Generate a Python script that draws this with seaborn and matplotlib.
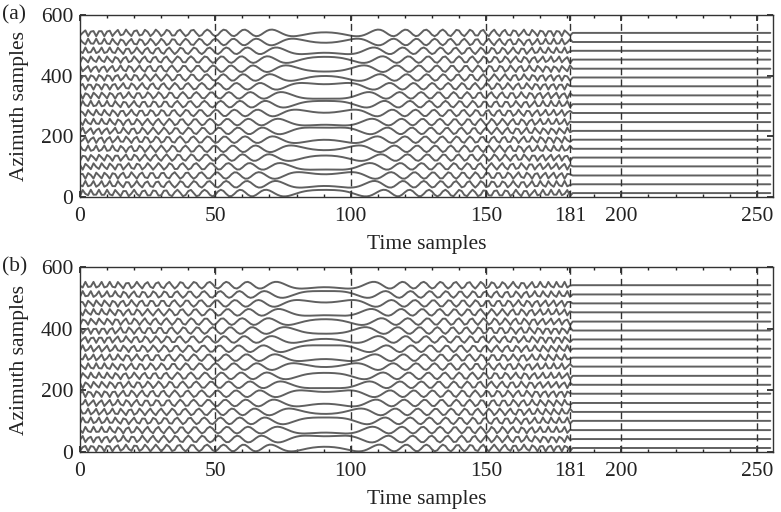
import matplotlib
matplotlib.use('Agg')
import matplotlib.pyplot as plt
from matplotlib.ticker import MultipleLocator
import seaborn as sns
import numpy as np
import pandas as pd

# values
time_samples = np.arange(0, 256)
trace_offsets = [13, 42, 71, 101, 130, 159, 189, 218, 247, 277,
                 306, 335, 365, 394, 423, 453, 482, 511, 541]
phase_a = [0.3, 2.1, -1.2, 2.8, 0.9, -2.0, 1.6, -0.4, 2.5, -1.5,
           0.2, 3.0, -0.9, 1.1, -2.6, 0.6, 2.2, -1.8, 1.4]
phase_b = [1.2, -0.6, 2.4, 0.1, -2.2, 1.8, -1.0, 2.9, 0.5, -1.7,
           2.0, -0.2, 1.4, -2.8, 0.8, 2.6, -1.3, 0.0, 2.2]
chirp_rate = 0.004      # from wiggle spacing near 0, 60 and 90
pulse_center = 90.5
pulse_end = 181
amplitude = 11
x_ticks = [0, 50, 100, 150, 181, 200, 250]
y_ticks = [0, 200, 400, 600]
marker_lines = [50, 100, 150, 181, 200, 250]
panel_labels = ['(a)', '(b)']


def build_traces(phases):
    rows = []
    for k, (off, ph) in enumerate(zip(trace_offsets, phases)):
        t = time_samples
        s = np.cos(np.pi * chirp_rate * (t - pulse_center) ** 2 + ph)
        s = np.where(t <= pulse_end, s, 0.0)
        for ti, si in zip(t, s):
            rows.append((k, ti, off + amplitude * si))
    return pd.DataFrame(rows, columns=['trace', 't', 'y'])


sns.set_theme(style='ticks')
plt.rcParams['font.family'] = ['Liberation Serif', 'DejaVu Serif']
plt.rcParams['axes.edgecolor'] = 'black'

fig = plt.figure(figsize=(7.81, 5.12), dpi=100)
boxes = [[0.1024, 0.6152, 0.8874, 0.3555], [0.1024, 0.1172, 0.8874, 0.3613]]

for box, phases, lab in zip(boxes, [phase_a, phase_b], panel_labels):
    ax = fig.add_axes(box)
    df = build_traces(phases)
    sns.lineplot(data=df, x='t', y='y', units='trace', estimator=None,
                 color='#606060', lw=1.4, ax=ax)
    for xv in marker_lines:
        ax.axvline(xv, color='#333333', lw=1.0, ls=(0, (5, 3)), zorder=3)
    ax.set_xlim(0, 256)
    ax.set_ylim(0, 600)
    ax.set_xticks(x_ticks)
    ax.set_yticks(y_ticks)
    ax.xaxis.set_minor_locator(MultipleLocator(10))
    ax.tick_params(which='both', direction='in', top=True, right=True,
                   colors='#222222', labelcolor='#222222')
    ax.tick_params(which='major', length=4, labelsize=15.5)
    ax.tick_params(axis='x', which='major', pad=7)
    ax.tick_params(axis='y', which='major', pad=5)
    ax.tick_params(which='minor', length=2.5)
    for sp in ax.spines.values():
        sp.set_linewidth(1.0)
        sp.set_color('#333333')
    ax.set_xlabel('Time samples', fontsize=15.5, color='#222222', labelpad=7)
    ax.set_ylabel('Azimuth samples', fontsize=15.5, color='#222222', labelpad=8)
    top = box[1] + box[3]
    fig.text(0.002, top, lab, fontsize=15.5, va='center', ha='left', color='#222222')

fig.savefig('out.png', dpi=100, facecolor='white')
